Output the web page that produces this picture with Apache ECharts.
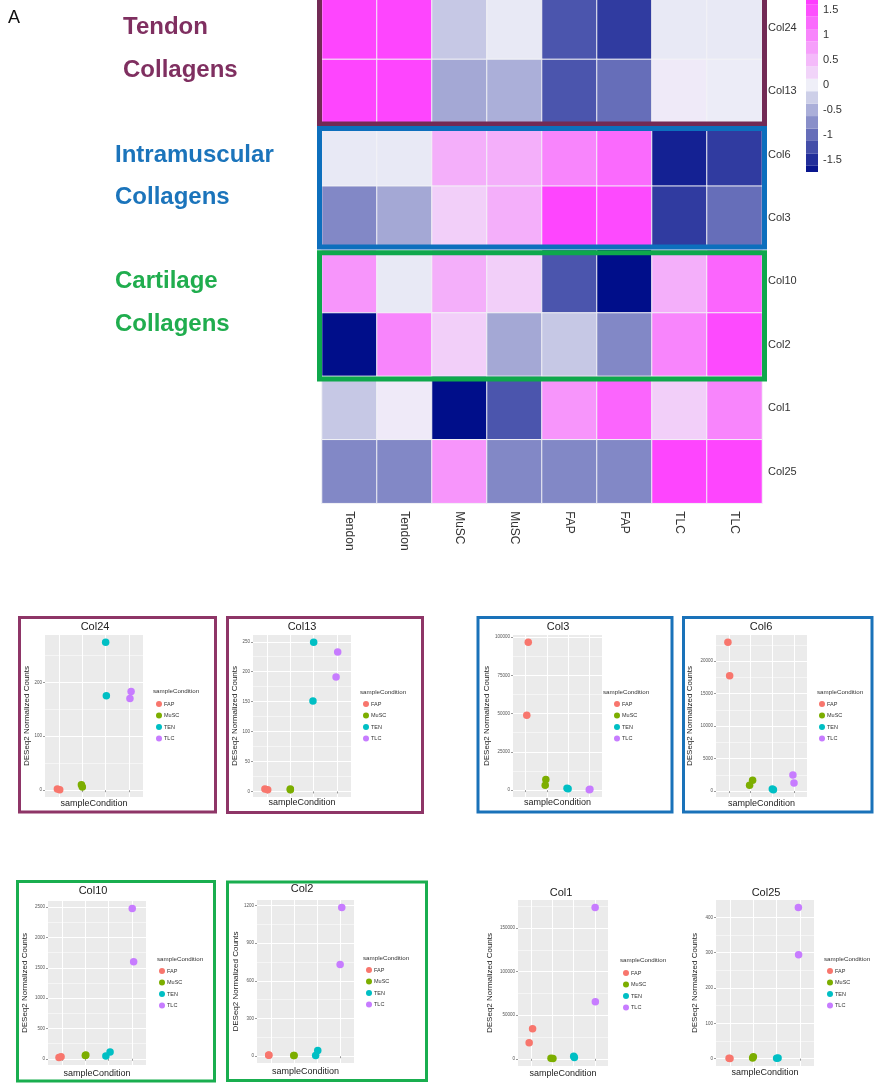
<!DOCTYPE html>
<html>
<head>
<meta charset="utf-8">
<script src="https://cdn.jsdelivr.net/npm/echarts@6/dist/echarts.min.js"></script>
<style>
  html, body { margin: 0; padding: 0; background: #ffffff; }
  #chart { width: 874px; height: 1084px; }
</style>
</head>
<body>
<div id="chart"></div>
<script>
// ---------- Heatmap: row-scaled collagen expression per sorted population ----------
const sampleLabels = ['Tendon', 'Tendon', 'MuSC', 'MuSC', 'FAP', 'FAP', 'TLC', 'TLC'];
const geneRows = ['Col24', 'Col13', 'Col6', 'Col3', 'Col10', 'Col2', 'Col1', 'Col25'];
const zCol24 = [1.6, 1.6, -0.3, -0.05, -1.2, -1.4, -0.05, -0.05];
const zCol13 = [1.6, 1.6, -0.55, -0.5, -1.2, -1.0, 0.05, -0.02];
const zCol6  = [-0.05, -0.05, 0.6, 0.6, 1.0, 1.25, -1.6, -1.4];
const zCol3  = [-0.8, -0.55, 0.3, 0.6, 1.6, 1.55, -1.4, -1.0];
const zCol10 = [0.85, -0.05, 0.6, 0.3, -1.2, -1.75, 0.6, 1.3];
const zCol2  = [-1.75, 1.0, 0.3, -0.55, -0.3, -0.8, 1.0, 1.55];
const zCol1  = [-0.3, 0.05, -1.75, -1.2, 0.85, 1.3, 0.3, 1.0];
const zCol25 = [-0.8, -0.8, 0.85, -0.8, -0.8, -0.8, 1.6, 1.6];
const zRows = [zCol24, zCol13, zCol6, zCol3, zCol10, zCol2, zCol1, zCol25];

// colour key
const keyTicks = [-1.5, -1, -0.5, 0, 0.5, 1, 1.5];
const keyBreaks = [-1.75, -1.625, -1.375, -1.125, -0.875, -0.625, -0.375, -0.125,
                   0.125, 0.375, 0.625, 0.875, 1.125, 1.375, 1.625, 1.75];

// ---------- DESeq2 normalized counts, two replicates per condition ----------
const conditions = ['FAP', 'MuSC', 'TEN', 'TLC'];
const conditionColors = ['#F8766D', '#7CAE00', '#00BFC4', '#C77CFF'];

const countsCol24 = [[2, 1], [10, 6], [274, 175], [183, 170]];
const countsCol13 = [[4, 3], [4, 3], [249, 151], [233, 191]];
const countsCol3  = [[96500, 48900], [7000, 3100], [1200, 900], [500, 300]];
const countsCol6  = [[22900, 17750], [1650, 880], [300, 220], [2470, 1230]];
const countsCol10 = [[20, 35], [55, 60], [45, 110], [2480, 1600]];
const countsCol2  = [[10, 8], [5, 6], [45, 5], [1184, 729]];
const countsCol1  = [[34600, 18500], [500, 400], [3000, 1500], [173500, 65400]];
const countsCol25 = [[1, 0.5], [5, 2], [1, 2], [428, 294]];

// horizontal jitter of each replicate, in category units
const jitterCol24 = [[-0.07, 0.03], [-0.04, 0], [0, 0.03], [0.09, 0.04]];
const jitterCol13 = [[-0.09, 0.03], [0, 0], [0, -0.03], [0.03, -0.04]];
const jitterCol3  = [[0.12, 0.05], [-0.05, -0.08], [-0.05, 0], [0.03, 0]];
const jitterCol6  = [[-0.05, 0.03], [0.09, -0.05], [0, 0.05], [-0.05, 0]];
const jitterCol10 = [[-0.13, -0.04], [0, 0.02], [-0.12, 0.06], [0.01, 0.07]];
const jitterCol2  = [[-0.09, -0.09], [0, 0], [0.03, -0.06], [0.07, 0]];
const jitterCol1  = [[0.08, -0.08], [-0.06, 0.03], [0, 0.03], [0, 0.01]];
const jitterCol25 = [[-0.04, 0], [0, -0.03], [0, 0.06], [-0.07, -0.06]];

// y-axis tick labels
const ticksCol24 = [0, 100, 200];
const ticksCol13 = [0, 50, 100, 150, 200, 250];
const ticksCol3  = [0, 25000, 50000, 75000, 100000];
const ticksCol6  = [0, 5000, 10000, 15000, 20000];
const ticksCol10 = [0, 500, 1000, 1500, 2000, 2500];
const ticksCol2  = [0, 300, 600, 900, 1200];
const ticksCol1  = [0, 50000, 100000, 150000];
const ticksCol25 = [0, 100, 200, 300, 400];

// ---------- layout ----------
const FONT = "'Liberation Sans', Arial, sans-serif";
const HM = { left: 322, top: -4, width: 440, rowH: 63.4 };
const KEY = { left: 806, top: -2, width: 12, height: 174 };

const panels = [
  { gene: 'Col24', counts: countsCol24, jitter: jitterCol24, ticks: ticksCol24,
    grid: { left: 45, top: 635, width: 98, height: 162 }, yGap: 12, xGap: 2,
    box: { x: 19.5, y: 617.5, w: 196, h: 194.5, c: '#8e3567' }, title: [95, 627],
    legTitle: [153, 691], leg: [156, 701] },
  { gene: 'Col13', counts: countsCol13, jitter: jitterCol13, ticks: ticksCol13,
    grid: { left: 253, top: 635, width: 98, height: 162 }, yGap: 14, xGap: 1,
    box: { x: 227.5, y: 617.5, w: 195, h: 195, c: '#8e3567' }, title: [302, 627],
    legTitle: [360, 692], leg: [363, 701] },
  { gene: 'Col3', counts: countsCol3, jitter: jitterCol3, ticks: ticksCol3,
    grid: { left: 513, top: 635, width: 89, height: 162 }, yGap: 19, xGap: 1,
    box: { x: 478, y: 617.5, w: 194, h: 194.5, c: '#1a72b9' }, title: [558, 627],
    legTitle: [603, 692], leg: [614, 701] },
  { gene: 'Col6', counts: countsCol6, jitter: jitterCol6, ticks: ticksCol6,
    grid: { left: 716, top: 635, width: 91, height: 162 }, yGap: 22, xGap: 2,
    box: { x: 683.5, y: 617.5, w: 188.5, h: 194.5, c: '#1a72b9' }, title: [761, 627],
    legTitle: [817, 692], leg: [819, 701] },
  { gene: 'Col10', counts: countsCol10, jitter: jitterCol10, ticks: ticksCol10,
    grid: { left: 48, top: 901, width: 98, height: 164 }, yGap: 19, xGap: 4,
    box: { x: 17.5, y: 881.5, w: 197, h: 199.5, c: '#19ae4f' }, title: [93, 891],
    legTitle: [157, 959], leg: [159, 968] },
  { gene: 'Col2', counts: countsCol2, jitter: jitterCol2, ticks: ticksCol2,
    grid: { left: 257, top: 900, width: 97, height: 163 }, yGap: 16, xGap: 4,
    box: { x: 227.5, y: 882, w: 199, h: 198.5, c: '#19ae4f' }, title: [302, 889],
    legTitle: [363, 958], leg: [366, 967] },
  { gene: 'Col1', counts: countsCol1, jitter: jitterCol1, ticks: ticksCol1,
    grid: { left: 518, top: 900, width: 90, height: 166 }, yGap: 24, xGap: 3,
    box: null, title: [561, 893],
    legTitle: [620, 960], leg: [623, 970] },
  { gene: 'Col25', counts: countsCol25, jitter: jitterCol25, ticks: ticksCol25,
    grid: { left: 716, top: 900, width: 98, height: 166 }, yGap: 17, xGap: 2,
    box: null, title: [766, 893],
    legTitle: [824, 959], leg: [827, 968] }
];

// ---------- option ----------
const grids = [
  { left: HM.left, top: HM.top, width: HM.width, height: HM.rowH * geneRows.length,
    outerBoundsMode: 'none', containLabel: false },
  { left: KEY.left, top: KEY.top, width: KEY.width, height: KEY.height,
    outerBoundsMode: 'none', containLabel: false }
];
const xAxes = [
  { type: 'category', gridIndex: 0, data: sampleLabels.map((s, i) => s + '_' + i),
    axisLine: { show: false }, axisTick: { show: false }, splitLine: { show: false },
    axisLabel: { rotate: -90, margin: 8, fontSize: 12, color: '#333', fontFamily: FONT,
                 formatter: (v, i) => sampleLabels[i] } },
  { type: 'value', gridIndex: 1, min: 0, max: 1, show: false }
];
const yAxes = [
  { type: 'category', gridIndex: 0, data: geneRows, inverse: true, position: 'right',
    axisLine: { show: false }, axisTick: { show: false }, splitLine: { show: false },
    axisLabel: { margin: 6, fontSize: 11, color: '#333', fontFamily: FONT } },
  { type: 'value', gridIndex: 1, min: -1.75, max: 1.75, position: 'right',
    axisLine: { show: false }, axisTick: { show: false, customValues: keyTicks },
    splitLine: { show: false },
    axisLabel: { customValues: keyTicks, margin: 5, fontSize: 11, color: '#333', fontFamily: FONT } }
];

const heatData = [];
zRows.forEach((row, r) => row.forEach((v, c) => heatData.push([c, r, v])));
const keyData = [];
for (let i = 0; i < keyBreaks.length - 1; i++) {
  keyData.push([keyBreaks[i], keyBreaks[i + 1], (keyBreaks[i] + keyBreaks[i + 1]) / 2]);
}

const series = [
  { type: 'heatmap', xAxisIndex: 0, yAxisIndex: 0, data: heatData, silent: true,
    itemStyle: { borderColor: '#f3f3f6', borderWidth: 1 }, emphasis: { disabled: true } },
  { type: 'custom', xAxisIndex: 1, yAxisIndex: 1, data: keyData, silent: true,
    encode: { x: 0, y: 1 },
    renderItem: function (params, api) {
      const a = api.coord([0, api.value(1)]);
      const b = api.coord([1, api.value(0)]);
      return { type: 'rect', shape: { x: a[0], y: a[1], width: b[0] - a[0], height: b[1] - a[1] },
               style: { fill: api.visual('color') } };
    } }
];

const legends = [];
const graphics = [];

panels.forEach((p, i) => {
  const g = 2 + i;
  const all = p.counts.flat();
  const lo = Math.min(...all), hi = Math.max(...all);
  const pad = (hi - lo) * 0.05;
  const yMin = lo - pad, yMax = hi + pad;
  const step = p.ticks[1] - p.ticks[0];
  const minors = [];
  for (let v = p.ticks[0] - step / 2; v <= yMax; v += step) if (v >= yMin) minors.push(v);

  grids.push({ left: p.grid.left, top: p.grid.top, width: p.grid.width, height: p.grid.height,
               show: true, backgroundColor: '#ebebeb', borderWidth: 0,
               outerBoundsMode: 'none', containLabel: false });

  xAxes.push({ type: 'value', gridIndex: g, min: 0.4, max: 4.6,
    name: 'sampleCondition', nameLocation: 'middle', nameGap: p.xGap,
    nameTextStyle: { fontSize: 9, color: '#222', fontFamily: FONT, verticalAlign: 'top' },
    axisLine: { show: false },
    axisTick: { show: true, length: 2, customValues: [1, 2, 3, 4], lineStyle: { color: '#555', width: 0.6 } },
    axisLabel: { show: false },
    splitLine: { show: true, lineStyle: { color: '#ffffff', width: 1 } } });

  yAxes.push({ type: 'value', gridIndex: g, min: yMin, max: yMax, position: 'left',
    name: 'DESeq2 Normalized Counts', nameLocation: 'middle', nameGap: p.yGap,
    nameTextStyle: { fontSize: 8, color: '#222', fontFamily: FONT },
    axisLine: { show: false },
    axisTick: { show: true, length: 2, customValues: p.ticks, lineStyle: { color: '#555', width: 0.6 } },
    axisLabel: { customValues: p.ticks, fontSize: 4.5, color: '#555', margin: 3, fontFamily: FONT,
                 formatter: v => String(v) },
    splitLine: { show: true, lineStyle: { color: '#ffffff', width: 1 } } });

  yAxes.push({ type: 'value', gridIndex: g, min: yMin, max: yMax, position: 'left',
    axisLine: { show: false },
    axisTick: { show: false, customValues: minors },
    axisLabel: { show: false },
    splitLine: { show: true, lineStyle: { color: '#ffffff', width: 0.5 } } });

  const yIdx = yAxes.length - 2;
  conditions.forEach((cond, c) => {
    series.push({ type: 'scatter', name: cond, xAxisIndex: g, yAxisIndex: yIdx,
      symbolSize: 7.5, z: 3, silent: true,
      itemStyle: { color: conditionColors[c], opacity: 1 },
      data: p.counts[c].map((v, k) => [c + 1 + p.jitter[c][k], v]) });
  });

  legends.push({ data: conditions, orient: 'vertical', left: p.leg[0], top: p.leg[1],
    icon: 'circle', itemWidth: 6, itemHeight: 6, itemGap: 5.5, padding: 0,
    selectedMode: false,
    textStyle: { fontSize: 5.5, color: '#333', fontFamily: FONT, padding: [0, 0, 0, -3] } });

  graphics.push({ type: 'text', x: p.title[0], y: p.title[1], silent: true,
    style: { text: p.gene, fontSize: 11, fontFamily: FONT, fill: '#222',
             align: 'center', verticalAlign: 'middle' } });
  graphics.push({ type: 'text', x: p.legTitle[0], y: p.legTitle[1], silent: true,
    style: { text: 'sampleCondition', fontSize: 6.2, fontFamily: FONT, fill: '#333',
             align: 'left', verticalAlign: 'middle' } });
  if (p.box) {
    graphics.push({ type: 'rect', silent: true,
      shape: { x: p.box.x, y: p.box.y, width: p.box.w, height: p.box.h },
      style: { fill: 'none', stroke: p.box.c, lineWidth: 3 } });
  }
});

// group frames around the heatmap rows
const rowEdge = k => HM.top + k * HM.rowH;
const frameLeft = HM.left - 2.5, frameRight = HM.left + HM.width + 2.5;
[
  { y0: rowEdge(0) - 3, y1: rowEdge(2) + 1.2, c: '#722a55' },
  { y0: rowEdge(2) + 5.7, y1: rowEdge(4) - 2.6, c: '#0d6fbd' },
  { y0: rowEdge(4) + 3.2, y1: rowEdge(6) + 2.6, c: '#0ea84c' }
].forEach(f => graphics.push({ type: 'rect', silent: true, z: 10,
  shape: { x: frameLeft, y: f.y0, width: frameRight - frameLeft, height: f.y1 - f.y0 },
  style: { fill: 'none', stroke: f.c, lineWidth: 5 } }));

// group names and panel letter
const groupText = (text, x, y, color) => ({ type: 'text', x: x, y: y, silent: true,
  style: { text: text, fontSize: 24, fontWeight: 'bold', fontFamily: FONT, fill: color,
           align: 'left', verticalAlign: 'middle' } });
graphics.push(
  { type: 'text', x: 8, y: 18, silent: true,
    style: { text: 'A', fontSize: 18, fontFamily: FONT, fill: '#111', align: 'left', verticalAlign: 'middle' } },
  groupText('Tendon', 123, 27, '#7f2f60'),
  groupText('Collagens', 123, 70, '#7f2f60'),
  groupText('Intramuscular', 115, 155, '#1b74bb'),
  groupText('Collagens', 115, 197, '#1b74bb'),
  groupText('Cartilage', 115, 281, '#20ad4e'),
  groupText('Collagens', 115, 324, '#20ad4e')
);

const option = {
  animation: false,
  backgroundColor: '#ffffff',
  textStyle: { fontFamily: FONT },
  grid: grids,
  xAxis: xAxes,
  yAxis: yAxes,
  visualMap: {
    type: 'continuous', show: false, min: -1.75, max: 1.75, dimension: 2,
    seriesIndex: [0, 1],
    inRange: { color: ['#000e8a', '#efeff8', '#ff35ff'] }
  },
  legend: legends,
  series: series,
  graphic: { elements: graphics }
};

const chart = echarts.init(document.getElementById('chart'), null, { renderer: 'canvas' });
chart.setOption(option);
</script>
</body>
</html>
